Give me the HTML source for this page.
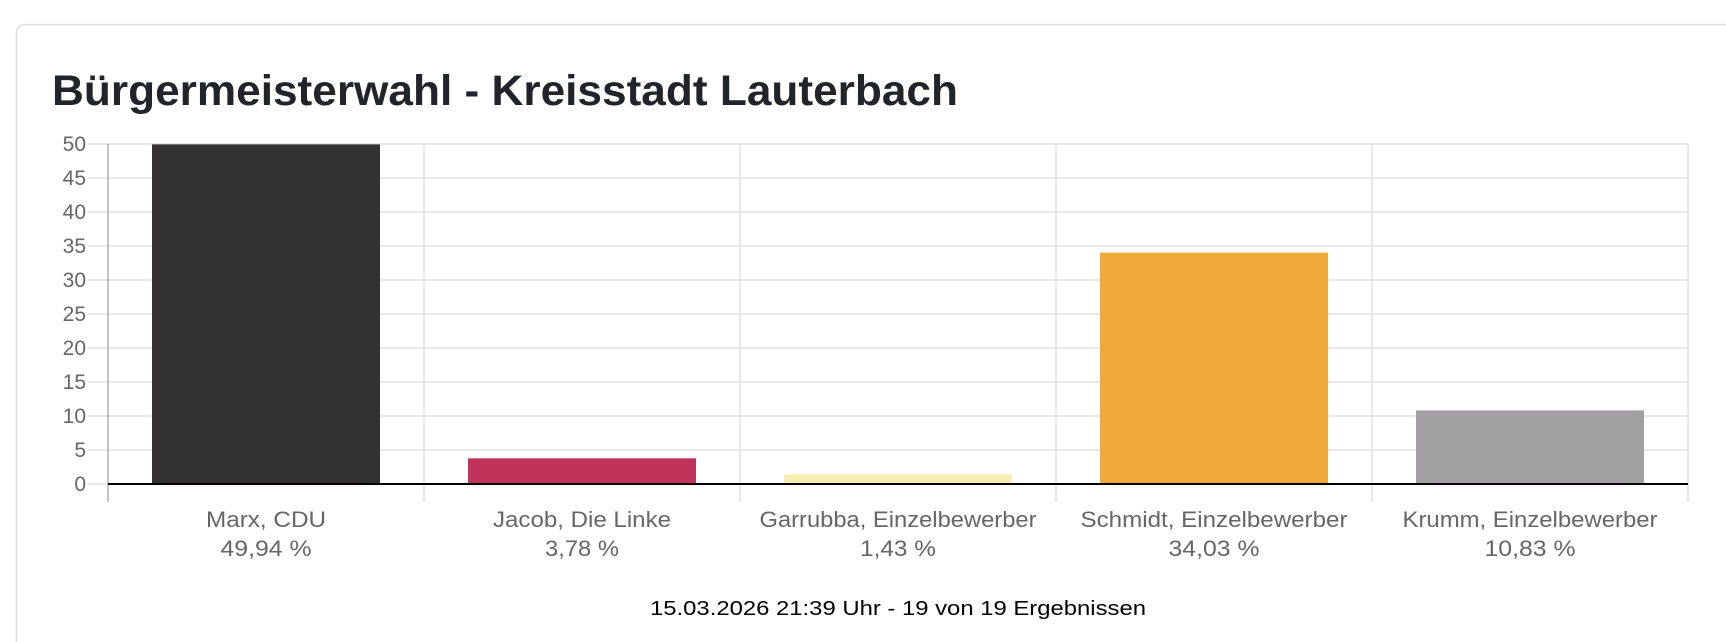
<!DOCTYPE html>
<html><head><meta charset="utf-8"><style>
html,body{margin:0;padding:0;background:#fff;width:1726px;height:642px;overflow:hidden}
svg{display:block}
text{font-family:"Liberation Sans",Arial,sans-serif}
</style></head><body>
<svg width="1726" height="642" viewBox="0 0 1726 642" xmlns="http://www.w3.org/2000/svg">
<rect x="16.5" y="24.5" width="1720" height="640" rx="8" fill="#fff" stroke="#dcdcdc" stroke-width="1.5"/>
<text x="52" y="105" font-size="43" font-weight="bold" fill="#212529" textLength="906" lengthAdjust="spacingAndGlyphs">Bürgermeisterwahl - Kreisstadt Lauterbach</text>
<g stroke="#e0e0e0" stroke-width="1.5">
<line x1="108" y1="144" x2="1688" y2="144"/>
<line x1="108" y1="178" x2="1688" y2="178"/>
<line x1="108" y1="212" x2="1688" y2="212"/>
<line x1="108" y1="246" x2="1688" y2="246"/>
<line x1="108" y1="280" x2="1688" y2="280"/>
<line x1="108" y1="314" x2="1688" y2="314"/>
<line x1="108" y1="348" x2="1688" y2="348"/>
<line x1="108" y1="382" x2="1688" y2="382"/>
<line x1="108" y1="416" x2="1688" y2="416"/>
<line x1="108" y1="450" x2="1688" y2="450"/>
<line x1="88" y1="144" x2="108" y2="144"/><line x1="88" y1="178" x2="108" y2="178"/><line x1="88" y1="212" x2="108" y2="212"/><line x1="88" y1="246" x2="108" y2="246"/><line x1="88" y1="280" x2="108" y2="280"/><line x1="88" y1="314" x2="108" y2="314"/><line x1="88" y1="348" x2="108" y2="348"/><line x1="88" y1="382" x2="108" y2="382"/><line x1="88" y1="416" x2="108" y2="416"/><line x1="88" y1="450" x2="108" y2="450"/><line x1="88" y1="484" x2="108" y2="484"/>
<line x1="424" y1="144" x2="424" y2="502"/>
<line x1="740" y1="144" x2="740" y2="502"/>
<line x1="1056" y1="144" x2="1056" y2="502"/>
<line x1="1372" y1="144" x2="1372" y2="502"/>
<line x1="1688" y1="144" x2="1688" y2="502"/>
</g>
<line x1="108" y1="144" x2="108" y2="502" stroke="#b0b0b0" stroke-width="1.5"/>
<rect x="152" y="144.4" width="228" height="339.6" fill="#333132"/>
<rect x="468" y="458.3" width="228" height="25.7" fill="#c0335b"/>
<rect x="784" y="474.3" width="228" height="9.7" fill="#f8eeb4"/>
<rect x="1100" y="252.6" width="228" height="231.4" fill="#f0aa3c"/>
<rect x="1416" y="410.4" width="228" height="73.6" fill="#a19fa1"/>
<line x1="108" y1="484" x2="1688" y2="484" stroke="#000" stroke-width="2"/>
<g font-size="21" fill="#666" text-anchor="end">
<text x="86" y="151">50</text><text x="86" y="185">45</text><text x="86" y="219">40</text><text x="86" y="253">35</text><text x="86" y="287">30</text><text x="86" y="321">25</text><text x="86" y="355">20</text><text x="86" y="389">15</text><text x="86" y="423">10</text><text x="86" y="457">5</text><text x="86" y="491">0</text>
</g>
<g font-size="22" fill="#666" text-anchor="middle" lengthAdjust="spacingAndGlyphs">
<text x="266" y="527" textLength="120" lengthAdjust="spacingAndGlyphs">Marx, CDU</text><text x="266" y="556" textLength="91" lengthAdjust="spacingAndGlyphs">49,94 %</text>
<text x="582" y="527" textLength="178" lengthAdjust="spacingAndGlyphs">Jacob, Die Linke</text><text x="582" y="556" textLength="74" lengthAdjust="spacingAndGlyphs">3,78 %</text>
<text x="898" y="527" textLength="277" lengthAdjust="spacingAndGlyphs">Garrubba, Einzelbewerber</text><text x="898" y="556" textLength="76" lengthAdjust="spacingAndGlyphs">1,43 %</text>
<text x="1214" y="527" textLength="267" lengthAdjust="spacingAndGlyphs">Schmidt, Einzelbewerber</text><text x="1214" y="556" textLength="91" lengthAdjust="spacingAndGlyphs">34,03 %</text>
<text x="1530" y="527" textLength="255" lengthAdjust="spacingAndGlyphs">Krumm, Einzelbewerber</text><text x="1530" y="556" textLength="91" lengthAdjust="spacingAndGlyphs">10,83 %</text>
</g>
<text x="898" y="615" font-size="20" fill="#000" text-anchor="middle" textLength="496" lengthAdjust="spacingAndGlyphs">15.03.2026 21:39 Uhr - 19 von 19 Ergebnissen</text>
</svg>
</body></html>
